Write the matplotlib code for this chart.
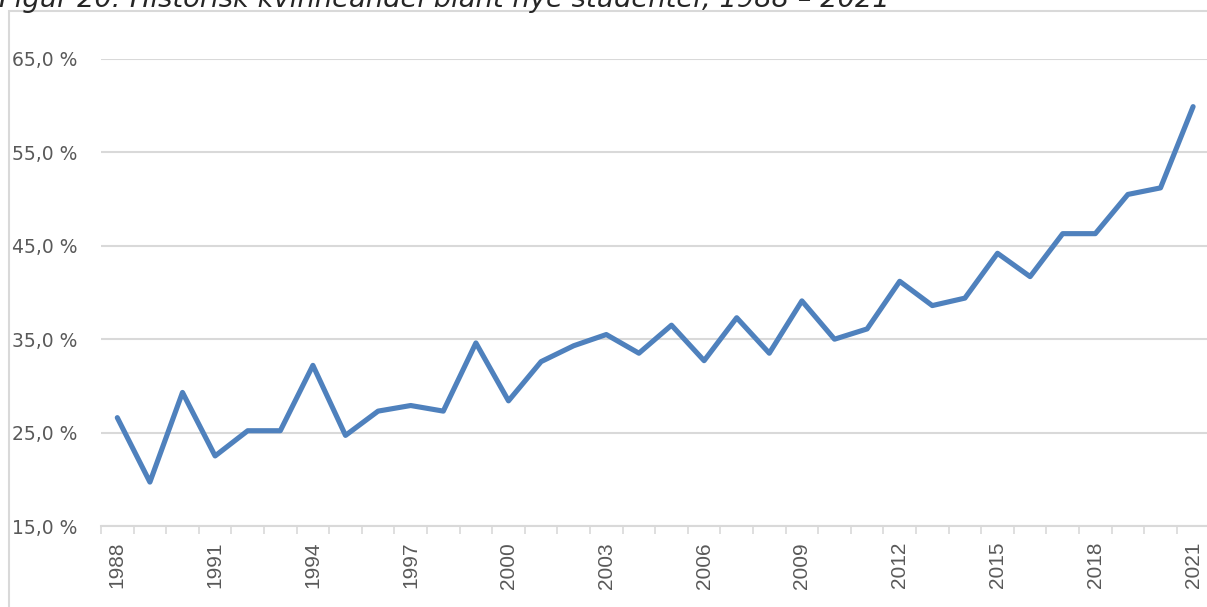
import matplotlib.pyplot as plt
from matplotlib.patches import Rectangle
from matplotlib.ticker import FixedLocator, FuncFormatter

# Kvinneandel blant nye studenter, 1988-2021 (prosent)
years = list(range(1988, 2022))
share = [26.6, 19.7, 29.3, 22.5, 25.2, 25.2, 32.2, 24.7, 27.3, 27.9,
         27.3, 34.6, 28.4, 32.6, 34.3, 35.5, 33.5, 36.5, 32.7, 37.3,
         33.5, 39.1, 35.0, 36.1, 41.2, 38.6, 39.4, 44.2, 41.7, 46.3,
         46.3, 50.5, 51.2, 59.9]
y_ticks = [15, 25, 35, 45, 55, 65]
title = "Figur 20: Historisk kvinneandel blant nye studenter, 1988 \u2013 2021"

W, H = 1207, 607
fig = plt.figure(figsize=(W / 100, H / 100), dpi=100)
fig.patch.set_facecolor("white")

# chart frame (only top and left edge visible in the crop)
fig.patches.append(Rectangle((9 / W, -0.2), 1.2, 1 - 11 / H + 0.2,
                             transform=fig.transFigure, fill=False,
                             edgecolor="#D9D9D9", linewidth=1.5))

# title is cut at the top edge, as in the source crop
fig.text(-0.001, 1 - 7 / H, title, fontsize=19.7, style="italic",
         color="#262626", va="baseline", ha="left")

left, right = 101, 101 + 34 * 32.6
top, bottom = 59, 526
ax = fig.add_axes([left / W, 1 - bottom / H, (right - left) / W, (bottom - top) / H])

x = list(range(len(years)))
ax.plot(x, share, color="#4F81BD", linewidth=3.7, solid_joinstyle="round",
        solid_capstyle="round", zorder=3)

ax.set_xlim(-0.5, len(years) - 0.5)
ax.set_ylim(15, 65)

ax.set_yticks(y_ticks)
ax.yaxis.set_major_formatter(FuncFormatter(lambda v, p: f"{v:.1f}".replace(".", ",") + " %"))
ax.grid(axis="y", color="#D9D9D9", linewidth=1.5)
ax.set_axisbelow(True)

label_idx = x[::3]
ax.set_xticks(label_idx)
ax.set_xticklabels([str(years[i]) for i in label_idx], rotation=90,
                   fontfamily="Liberation Sans", fontsize=15)
ax.xaxis.set_minor_locator(FixedLocator([i - 0.5 for i in range(len(years) + 1)]))
ax.tick_params(axis="x", which="major", length=0, pad=11.5, colors="#595959")
ax.tick_params(axis="x", which="minor", length=5.5, width=1.2, color="#D9D9D9")
ax.tick_params(axis="y", length=0, pad=17, labelsize=13.5, colors="#595959")

for s in ["left", "right", "top"]:
    ax.spines[s].set_visible(False)
ax.spines["bottom"].set_color("#D9D9D9")
ax.spines["bottom"].set_linewidth(1.5)

fig.savefig("out.png", dpi=100)
